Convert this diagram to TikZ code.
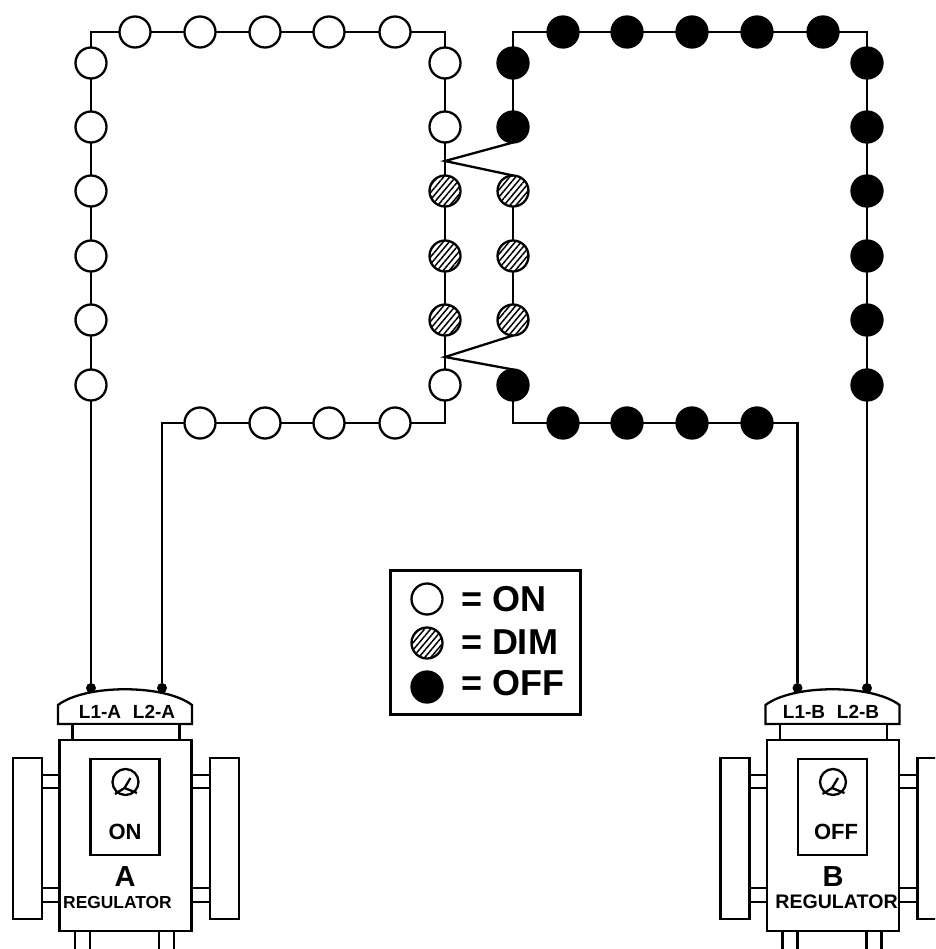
\documentclass[tikz,border=0pt]{standalone}
\usepackage{fontspec}
\setmainfont{Liberation Sans}
\usetikzlibrary{patterns.meta}
\newcommand{\fsz}[1]{\fontsize{#1}{#1}\selectfont\bfseries}
\tikzset{
  wire/.style={line width=2.3pt,draw=black},
  part/.style={line width=2.3pt,draw=black,fill=white},
  lamp/.style={circle,draw=black,line width=2.3pt,inner sep=0pt,outer sep=0pt,minimum size=31pt},
  lampon/.style={lamp,fill=white},
  lampoff/.style={lamp,fill=black},
  lampdim/.style={lamp,preaction={fill=white},pattern={Lines[angle=50,distance=4.6pt,line width=1.5pt]}},
  term/.style={circle,fill=black,inner sep=0pt,outer sep=0pt,minimum size=10pt},
  lab/.style={inner sep=0pt,outer sep=0pt,text=black,anchor=center},
  pics/regulator/.style={code={
    \draw[part] (-1.5,-35) -- (-1.5,-16) -- (132.5,-16) -- (132.5,-35)
       .. controls (105,-56) and (26,-56) .. (-1.5,-35) -- cycle;
    \draw[part] (13,-16) rectangle (120,0);
    \draw[wire] (-17,35) -- (0,35) (-17,48) -- (0,48) (-17,148) -- (0,148) (-17,162) -- (0,162);
    \draw[wire] (132,35) -- (151,35) (132,48) -- (151,48) (132,148) -- (151,148) (132,162) -- (151,162);
    \draw[part] (-46.5,18) rectangle (-17.5,179);
    \draw[part] (150.5,18) rectangle (179.5,179);
    \draw[wire] (15.5,191) -- (15.5,210) (30.5,191) -- (30.5,210) (99.5,191) -- (99.5,210) (114.5,191) -- (114.5,210);
    \draw[part] (0,0) rectangle (132,191);
    \draw[part] (31,19) rectangle (100,115);
    \draw[wire] (66,42) circle (13);
    \draw[wire] (55.5,54) -- (65,48) -- (77.5,53) (65,48) -- (71,38);
  }}
}
\begin{document}
\begin{tikzpicture}[x=1pt,y=-1pt]
\clip (0,0) rectangle (935,949);
\fill[white] (0,0) rectangle (935,949);

% Regulators
\pic at (59.5,740) {regulator};
\pic at (767,740) {regulator};
\node[lab] (l1a) at (100,712) {\fsz{19}L1-A};
\node[lab] (l2a) at (154,712) {\fsz{19}L2-A};
\node[lab] (l1b) at (804,712) {\fsz{19}L1-B};
\node[lab] (l2b) at (858,712) {\fsz{19}L2-B};
\node[lab] (stA) at (125,832) {\fsz{22}ON};
\node[lab] (stB) at (836,832) {\fsz{22}OFF};
\node[lab] (nmA) at (125,877) {\fsz{29}A};
\node[lab] (nmB) at (833,877) {\fsz{29}B};
\node[lab] (rgA) at (117.5,902) {\fsz{17.4}REGULATOR};
\node[lab] (rgB) at (836.5,902) {\fsz{19.6}REGULATOR};

% Terminals
\node[term] (tL1A) at (91,688) {};
\node[term] (tL2A) at (162,688) {};
\node[term] (tL1B) at (797.5,688) {};
\node[term] (tL2B) at (867,688) {};

% Corners and junctions
\coordinate (cATL) at (91,32);
\coordinate (cATR) at (445,32);
\coordinate (cABR) at (445,423);
\coordinate (cABL) at (162,423);
\coordinate (jA1) at (445,161);
\coordinate (jA2) at (445,357);
\coordinate (cBTL) at (513,32);
\coordinate (cBTR) at (867,32);
\coordinate (cBBL) at (513,423);
\coordinate (cBBR) at (797.5,423);

% Lamps, loop A
\foreach \n/\y in {1/63,2/127,3/191,4/256,5/320,6/385}
  \node[lampon] (al\n) at (91,\y) {};
\foreach \n/\x in {1/135,2/200,3/265,4/329,5/395}
  \node[lampon] (at\n) at (\x,32) {};
\node[lampon] (ar1) at (445,63) {};
\node[lampon] (ar2) at (445,127) {};
\node[lampdim] (ar3) at (445,191) {};
\node[lampdim] (ar4) at (445,256) {};
\node[lampdim] (ar5) at (445,320) {};
\node[lampon] (ar6) at (445,385) {};
\foreach \n/\x in {1/200,2/265,3/329,4/395}
  \node[lampon] (ab\n) at (\x,423) {};

% Lamps, loop B
\foreach \n/\y in {1/63,2/127,3/191,4/256,5/320,6/385}
  \node[lampoff] (br\n) at (867,\y) {};
\foreach \n/\x in {1/563,2/627,3/692,4/757,5/823}
  \node[lampoff] (bt\n) at (\x,32) {};
\node[lampoff] (bl1) at (513,63) {};
\node[lampoff] (bl2) at (513,127) {};
\node[lampdim] (bl3) at (513,191) {};
\node[lampdim] (bl4) at (513,256) {};
\node[lampdim] (bl5) at (513,320) {};
\node[lampoff] (bl6) at (513,385) {};
\foreach \n/\x in {1/563,2/627,3/692,4/757}
  \node[lampoff] (bb\n) at (\x,423) {};

% Wiring, loop A
\draw[wire] (tL1A) -- (al6) -- (al5) -- (al4) -- (al3) -- (al2) -- (al1) -- (cATL)
  -- (at1) -- (at2) -- (at3) -- (at4) -- (at5) -- (cATR)
  -- (ar1) -- (ar2) -- (jA1) -- (ar3) -- (ar4) -- (ar5) -- (jA2) -- (ar6) -- (cABR)
  -- (ab4) -- (ab3) -- (ab2) -- (ab1) -- (cABL) -- (tL2A);

% Wiring, loop B
\draw[wire] (tL2B) -- (br6) -- (br5) -- (br4) -- (br3) -- (br2) -- (br1) -- (cBTR)
  -- (bt5) -- (bt4) -- (bt3) -- (bt2) -- (bt1) -- (cBTL) -- (bl1) -- (bl2);
\draw[wire] (bl3) -- (bl4) -- (bl5);
\draw[wire] (bl6) -- (cBBL) -- (bb1) -- (bb2) -- (bb3) -- (bb4) -- (cBBR) -- (tL1B);

% Switch blades
\draw[wire] (bl2.south) -- (jA1) -- (bl3.north);
\draw[wire] (bl5.south) -- (jA2) -- (bl6.north);

% Legend
\node[draw=black,line width=2.3pt,fill=white,minimum width=190pt,minimum height=144pt,inner sep=0pt,outer sep=0pt] (legend) at (485.5,642.5) {};
\node[lampon] (kOn) at (427,599) {};
\node[lampdim] (kDim) at (427,643) {};
\node[lampoff] (kOff) at (427,687) {};
\node[inner sep=0pt,outer sep=0pt,anchor=base west] (tOn) at (461,611) {\fsz{36}= ON};
\node[inner sep=0pt,outer sep=0pt,anchor=base west] (tDim) at (461,654) {\fsz{36}= DIM};
\node[inner sep=0pt,outer sep=0pt,anchor=base west] (tOff) at (461,695) {\fsz{36}= OFF};
\end{tikzpicture}
\end{document}
